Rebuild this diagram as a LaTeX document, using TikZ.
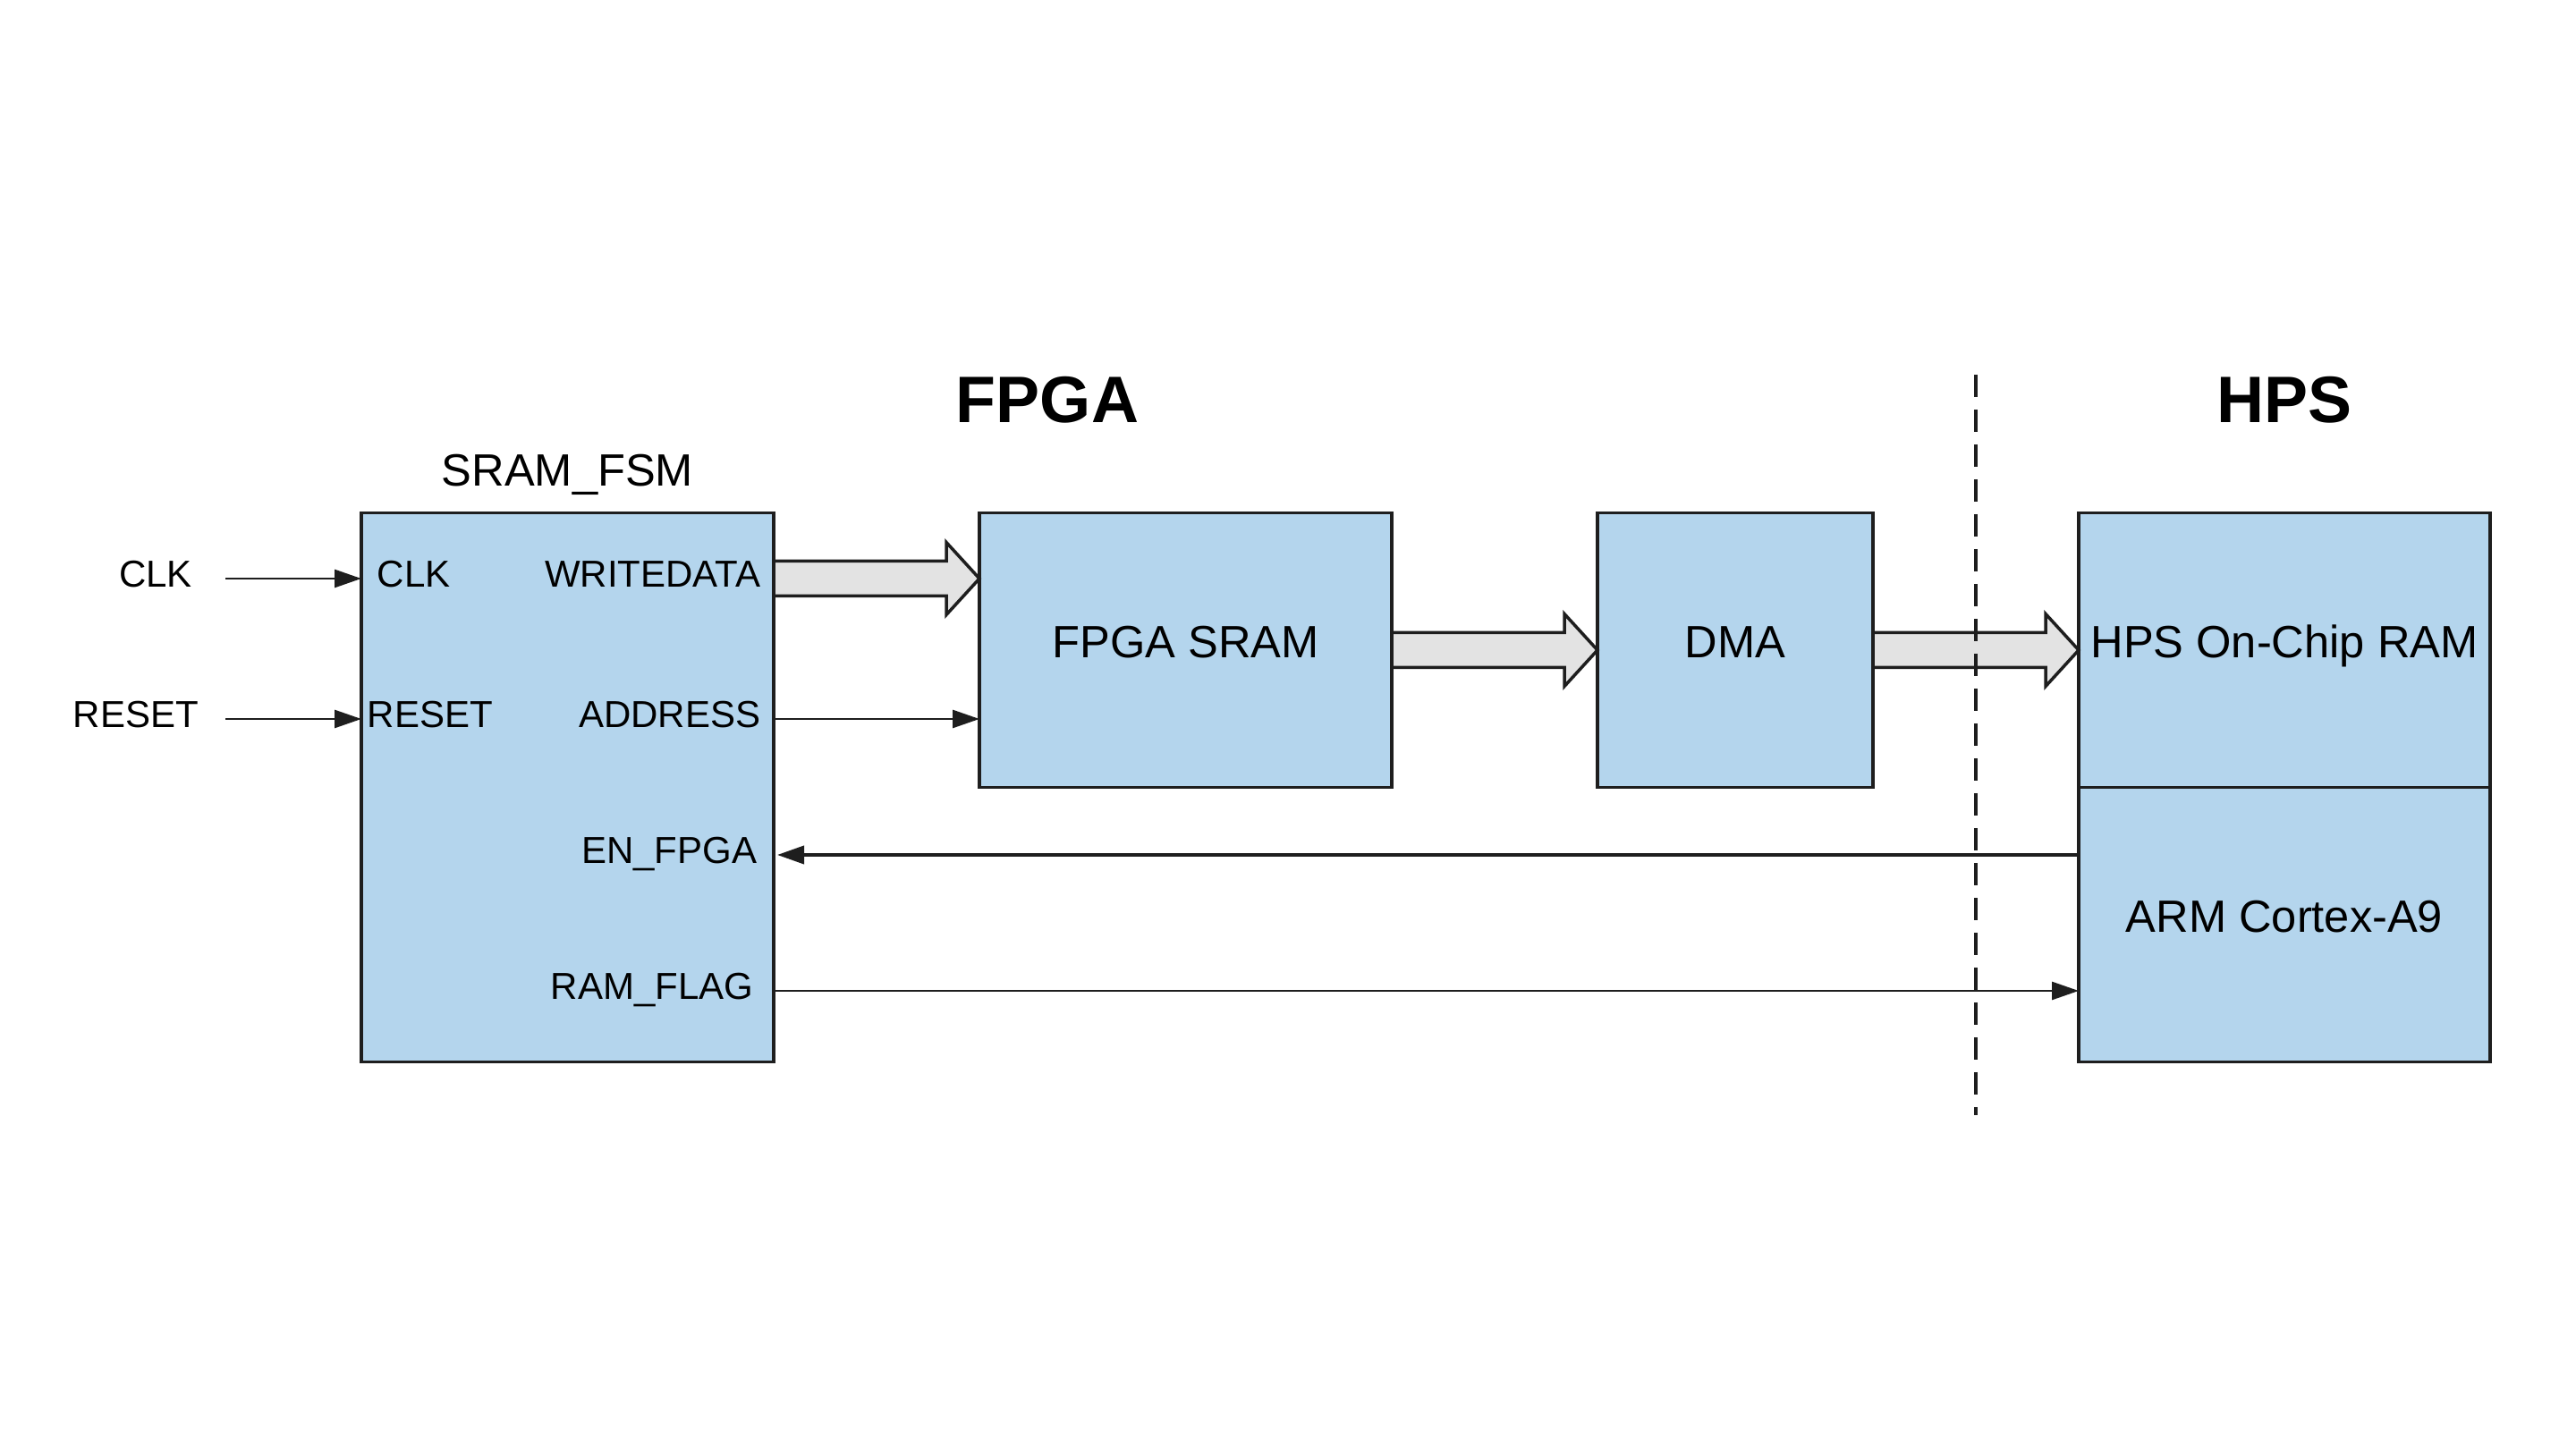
\documentclass[tikz,border=0pt]{standalone}
\usepackage{fontspec}
\setmainfont{Liberation Sans}
\usetikzlibrary{arrows.meta, positioning, calc}
\definecolor{blockblue}{RGB}{180, 213, 237}
\definecolor{busgray}{RGB}{227, 227, 227}
\definecolor{edge}{RGB}{30, 30, 30}

% wide bus arrow between two points (same height)
\newcommand{\busarrow}[2]{%
  \draw[bus] let \p1=(#1), \p2=(#2) in
    (\x1,\y1+0.195cm) -- (\x2-0.37cm,\y1+0.195cm) -- (\x2-0.37cm,\y1+0.405cm)
    -- (\x2,\y1) -- (\x2-0.37cm,\y1-0.405cm) -- (\x2-0.37cm,\y1-0.195cm)
    -- (\x1,\y1-0.195cm) -- cycle;}

\begin{document}
\begin{tikzpicture}[
    node distance=2.30cm,
    block/.style={
        rectangle, draw=edge, line width=1pt,
        fill=blockblue, outer sep=0pt, inner sep=1pt,
        minimum width=4.61cm, minimum height=3.07cm,
        text height=0.75em, text depth=0.25em,
        align=center,
        font=\fontsize{14.4}{17}\selectfont
    },
    port/.style={
        inner sep=0pt,
        font=\fontsize{11.95}{14}\selectfont
    },
    title/.style={
        font=\fontsize{20.9}{25}\selectfont\bfseries
    },
    sig/.style={
        -{Triangle[length=0.3cm, width=0.2cm]}, line width=0.8pt, draw=edge
    },
    bus/.style={
        draw=edge, line width=1pt, fill=busgray, line join=miter
    },
    border/.style={
        dash pattern=on 0.25cm off 0.14cm, line width=1pt, draw=edge
    }
]
\useasboundingbox (0,0) rectangle (28.8,16.16);

% Blocks
\node[block, minimum height=6.14cm, anchor=north west] (fsm) at (4.04,10.425) {};
\node[block, below right=0cm and 2.30cm of fsm.north east] (sram) {FPGA SRAM};
\node[block, minimum width=3.08cm, right=of sram] (dma) {DMA};
\node[block, minimum width=4.60cm, right=of dma] (ocram) {HPS On-Chip RAM};
\node[block, minimum width=4.60cm, below=0cm of ocram] (arm) {ARM Cortex-A9};

% Titles
\node[title] (fpgattl) at (11.71,11.69) {FPGA};
\node[title] (hpsttl) at (ocram.north |- fpgattl) {HPS};
\node[port, font=\fontsize{14.4}{17}\selectfont, anchor=mid] (fsmttl) at (fsm.north |- 0,10.82) {SRAM\_FSM};

% Ports
\node[port, anchor=mid west] (clkin) at (4.21,9.69) {CLK};
\node[port, anchor=mid west] (rstin) at (4.10,8.12) {RESET};
\node[port, anchor=mid east] (wd) at (8.51,9.69) {WRITEDATA};
\node[port, anchor=mid east] (addr) at (8.51,8.12) {ADDRESS};
\node[port, anchor=mid east] (en) at (8.47,6.60) {EN\_FPGA};
\node[port, anchor=mid east] (flag) at (8.43,5.08) {RAM\_FLAG};

% Inputs
\node[port, anchor=mid] (clk) at (1.74,9.69) {CLK};
\node[port, anchor=mid] (rst) at (1.52,8.12) {RESET};
\coordinate (clksrc) at (2.52,0 |- clk.mid);
\coordinate (rstsrc) at (2.52,0 |- rst.mid);

% Signals
\draw[sig] (clksrc) -- (clksrc -| fsm.west);
\draw[sig] (rstsrc) -- (rstsrc -| fsm.west);
\draw[sig] (addr.mid -| fsm.east) -- (addr.mid -| sram.west);
\draw[sig, line width=1.1pt] (arm.west |- en.mid) -- ([xshift=0.04cm]en.mid -| fsm.east);
\draw[sig] (flag.mid -| fsm.east) -- (flag.mid -| arm.west);

% Data path
\busarrow{wd.mid -| fsm.east}{wd.mid -| sram.west}
\busarrow{sram.east}{dma.west}
\busarrow{dma.east}{ocram.west}

% FPGA / HPS border
\coordinate (divtop) at (22.09,11.97);
\coordinate (divbot) at (22.09,3.69);
\draw[border] (divtop) -- (divbot);

\end{tikzpicture}
\end{document}
